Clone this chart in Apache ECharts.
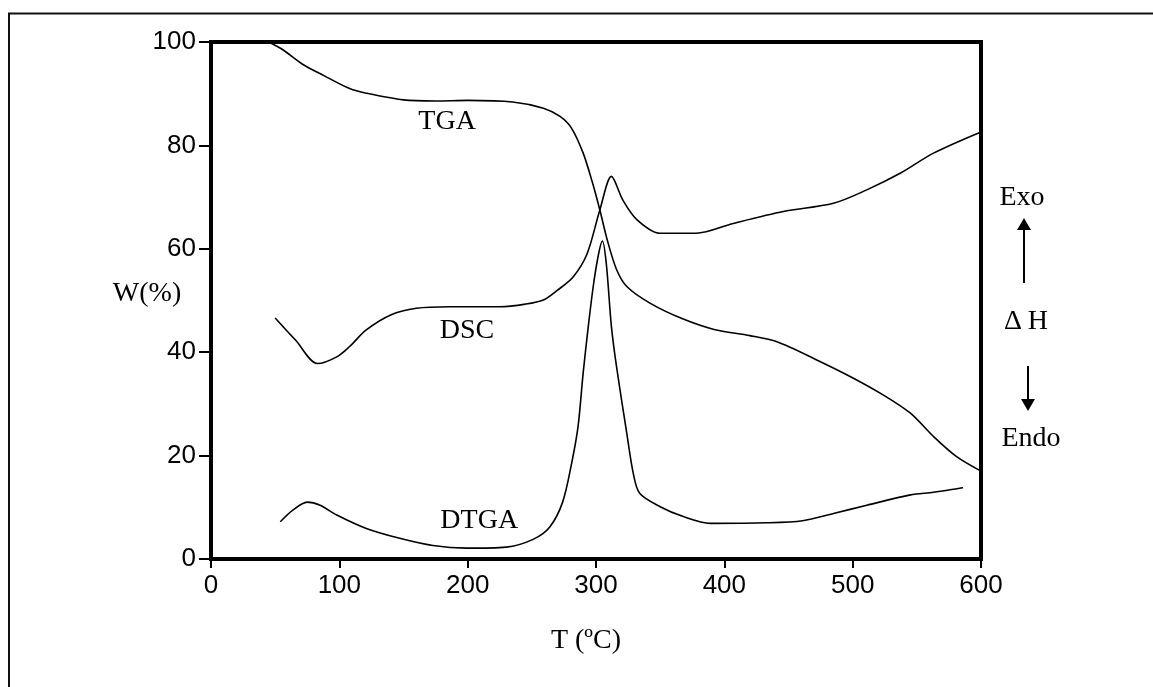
<!DOCTYPE html>
<html>
<head>
<meta charset="utf-8">
<script src="https://cdn.jsdelivr.net/npm/echarts@6/dist/echarts.min.js"></script>
<style>
  html, body { margin: 0; padding: 0; background: #fff; }
  #chart { width: 1153px; height: 687px; }
</style>
</head>
<body>
<div id="chart"></div>
<script>
// 温度轴刻度
var xTicks = [0, 100, 200, 300, 400, 500, 600];
var yTicks = [0, 20, 40, 60, 80, 100];

// TGA 曲线
var tgaT = [45, 56, 72, 88, 108, 121, 150, 175, 200, 235, 259, 272, 281, 290, 297, 303, 309, 316, 324, 342, 368, 392, 420, 441, 472, 498, 524, 545, 563, 581, 600];
var tgaW = [100, 98.5, 95.6, 93.5, 91, 90.1, 88.8, 88.6, 88.7, 88.4, 87.2, 85.6, 83.3, 78.5, 73, 67.5, 61.5, 56, 52.7, 49.5, 46.4, 44.4, 43.2, 42, 38.5, 35.3, 31.7, 28.2, 23.7, 19.8, 17];

// DSC 曲线
var dscT = [50, 66, 83, 98, 108, 121, 140, 160, 186, 225, 245, 259, 270, 282, 293, 303, 312, 321, 332, 350, 378, 407, 446, 485, 511, 537, 563, 600];
var dscW = [46.6, 42.3, 37.8, 39.1, 41.1, 44.3, 47.2, 48.5, 48.8, 48.8, 49.3, 50.1, 52, 54.5, 59, 67.5, 74, 69.4, 65.6, 63, 63, 64.9, 67.2, 68.8, 71.4, 74.6, 78.5, 82.6];

// DTGA 曲线
var dtgaT = [54, 64, 75, 85, 98, 121, 147, 173, 199, 230, 251, 264, 274, 281, 286, 290, 294, 298, 302, 305, 308, 312, 316, 324, 329, 334, 350, 368, 389, 433, 461, 485, 511, 545, 563, 586];
var dtgaW = [7.2, 9.5, 11, 10.4, 8.5, 5.9, 4, 2.6, 2.1, 2.3, 3.8, 6.2, 11, 18.5, 25.6, 36, 45, 53, 59, 61.5, 57.2, 45, 37.2, 24.3, 16.6, 12.7, 10.1, 8.2, 6.9, 7.0, 7.4, 8.8, 10.4, 12.4, 12.9, 13.8];

// 曲线标注
var curveNames = ['TGA', 'DSC', 'DTGA'];
var labelT = [184, 199.5, 209];
var labelW = [84.5, 44.1, 7.4];

function zip(a, b) {
  return a.map(function (v, i) { return [v, b[i]]; });
}

var serif = '"Liberation Serif", "DejaVu Serif", serif';
var sans = '"Liberation Sans", Arial, sans-serif';

var chart = echarts.init(document.getElementById('chart'));

function curve(name, data) {
  return {
    name: name,
    type: 'line',
    data: data,
    showSymbol: false,
    smooth: 0.3,
    silent: true,
    lineStyle: { color: '#000', width: 1.6 }
  };
}

var option = {
  animation: false,
  backgroundColor: '#fff',
  grid: {
    left: 211,
    right: 172,
    top: 42,
    bottom: 128,
    show: true,
    borderColor: '#000',
    borderWidth: 4
  },
  xAxis: {
    type: 'value',
    min: xTicks[0],
    max: xTicks[xTicks.length - 1],
    interval: 100,
    axisLine: { show: true, lineStyle: { color: '#000', width: 4 } },
    axisTick: { show: true, inside: false, length: 9, lineStyle: { color: '#000', width: 2 } },
    axisLabel: { color: '#000', fontFamily: sans, fontSize: 26, margin: 14 },
    splitLine: { show: false }
  },
  yAxis: {
    type: 'value',
    min: yTicks[0],
    max: yTicks[yTicks.length - 1],
    interval: 20,
    axisLine: { show: true, lineStyle: { color: '#000', width: 4 } },
    axisTick: { show: true, inside: false, length: 12, lineStyle: { color: '#000', width: 2 } },
    axisLabel: { color: '#000', fontFamily: sans, fontSize: 26, margin: 15 },
    splitLine: { show: false }
  },
  series: [
    curve('TGA', zip(tgaT, tgaW)),
    curve('DSC', zip(dscT, dscW)),
    curve('DTGA', zip(dtgaT, dtgaW)),
    {
      type: 'scatter',
      silent: true,
      symbolSize: 0,
      itemStyle: { color: '#000' },
      data: curveNames.map(function (n, i) { return { name: n, value: [labelT[i], labelW[i]] }; }),
      label: {
        show: true,
        position: 'inside',
        formatter: '{b}',
        color: '#000',
        opacity: 1,
        textBorderWidth: 0,
        fontFamily: serif,
        fontSize: 28
      }
    }
  ],
  graphic: [
    // 外框
    {
      type: 'polyline',
      shape: { points: [[9, 687], [9, 13.5], [1153, 13.5]] },
      style: { stroke: '#111', lineWidth: 2, fill: null }
    },
    {
      type: 'text',
      style: { text: 'W(%)', x: 147, y: 294, font: '28px ' + serif, fill: '#000', textAlign: 'center', textVerticalAlign: 'middle' }
    },
    {
      type: 'text',
      style: { text: 'T (ºC)', x: 586, y: 641, font: '28px ' + serif, fill: '#000', textAlign: 'center', textVerticalAlign: 'middle' }
    },
    {
      type: 'text',
      style: { text: 'Exo', x: 1022, y: 198, font: '28px ' + serif, fill: '#000', textAlign: 'center', textVerticalAlign: 'middle' }
    },
    {
      type: 'line',
      shape: { x1: 1024, y1: 283, x2: 1024, y2: 228 },
      style: { stroke: '#000', lineWidth: 2 }
    },
    {
      type: 'polygon',
      shape: { points: [[1024, 218], [1017, 230], [1031, 230]] },
      style: { fill: '#000' }
    },
    {
      type: 'text',
      style: { text: 'Δ\u2009H', x: 1026, y: 322, font: '28px ' + serif, fill: '#000', textAlign: 'center', textVerticalAlign: 'middle' }
    },
    {
      type: 'line',
      shape: { x1: 1028, y1: 366, x2: 1028, y2: 400 },
      style: { stroke: '#000', lineWidth: 2 }
    },
    {
      type: 'polygon',
      shape: { points: [[1028, 411], [1021, 399], [1035, 399]] },
      style: { fill: '#000' }
    },
    {
      type: 'text',
      style: { text: 'Endo', x: 1031, y: 439, font: '28px ' + serif, fill: '#000', textAlign: 'center', textVerticalAlign: 'middle' }
    }
  ]
};

chart.setOption(option);
</script>
</body>
</html>
